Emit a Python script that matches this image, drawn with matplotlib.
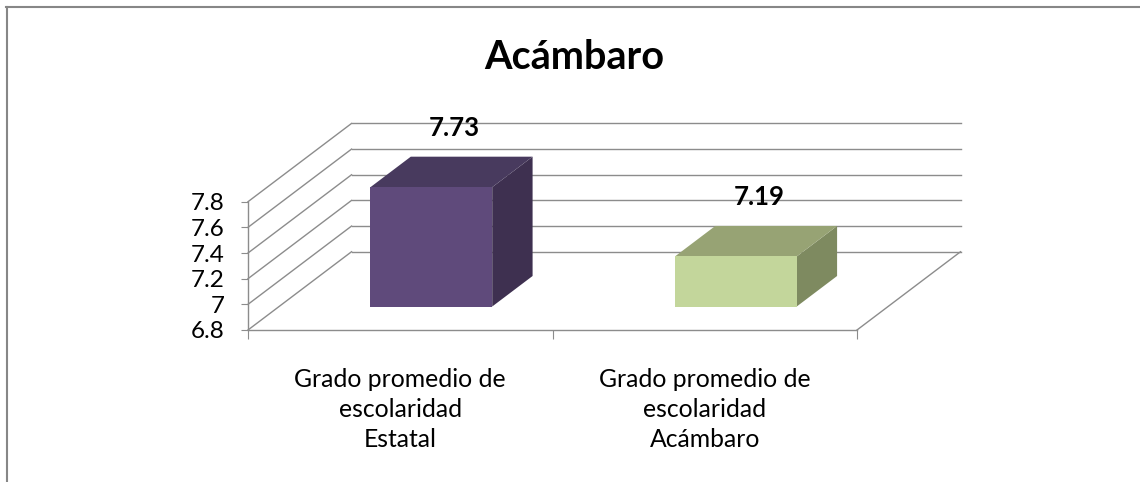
import matplotlib
matplotlib.use("Agg")
import matplotlib.pyplot as plt
from matplotlib.patches import Polygon
from matplotlib.lines import Line2D
from matplotlib.ticker import FormatStrFormatter

plt.rcParams["font.family"] = ["Lato", "DejaVu Sans"]

title = "Acámbaro"
categories = [
    "Grado promedio de\nescolaridad\nEstatal",
    "Grado promedio de\nescolaridad\nAcámbaro",
]
values = [7.73, 7.19]
y_ticks = [6.8, 7.0, 7.2, 7.4, 7.6, 7.8]

front_colors = ["#5f4a7b", "#c3d69b"]
top_colors = ["#483a5e", "#97a374"]
side_colors = ["#3e3050", "#7e8a60"]

GRID = "#8c8c8c"
DX, DY = 0.34, 0.61     # oblique depth offset (x units, value units)
BAR_W = 0.4
D0, D1 = 0.3, 0.69      # bar depth range as fraction of wall depth
base = y_ticks[0]


def proj(x, v, d):
    return (x + d * DX, v + d * DY)


fig = plt.figure(figsize=(11.4, 4.82), dpi=100)
ax = fig.add_axes([248 / 1140, 152 / 482, 609 / 1140, 128.3 / 482])
n = len(values)
ax.set_xlim(0, n)
ax.set_ylim(base, y_ticks[-1])

# back wall gridlines + left wall diagonals
for v in y_ticks:
    a, b = proj(0, v, 1), proj(n, v, 1)
    ax.plot([a[0], b[0]], [a[1], b[1]], color=GRID, lw=1.0, clip_on=False, zorder=1)
    c = proj(0, v, 0)
    ax.plot([c[0], a[0]], [c[1], a[1]], color=GRID, lw=1.0, clip_on=False, zorder=1)
# floor right edge
a, b = proj(n, base, 0), proj(n, base, 1)
ax.plot([a[0], b[0]], [a[1], b[1]], color=GRID, lw=1.0, clip_on=False, zorder=1)

# 3d-looking bars
for i, v in enumerate(values):
    xc = i + 0.5
    x0, x1 = xc - BAR_W / 2, xc + BAR_W / 2
    front = [proj(x0, base, D0), proj(x1, base, D0), proj(x1, v, D0), proj(x0, v, D0)]
    top = [proj(x0, v, D0), proj(x1, v, D0), proj(x1, v, D1), proj(x0, v, D1)]
    side = [proj(x1, base, D0), proj(x1, base, D1), proj(x1, v, D1), proj(x1, v, D0)]
    for pts, col in [(side, side_colors[i]), (top, top_colors[i]), (front, front_colors[i])]:
        ax.add_patch(Polygon(pts, closed=True, facecolor=col, edgecolor="none",
                             clip_on=False, zorder=3))
    ax.annotate(f"{v:.2f}", xy=proj(xc, v, 0.5), xytext=(2, 25.5),
                textcoords="offset points", ha="center", va="baseline",
                fontsize=18.5, fontweight="bold", annotation_clip=False, zorder=4)

for s in ["top", "right"]:
    ax.spines[s].set_visible(False)
for s in ["left", "bottom"]:
    ax.spines[s].set_color(GRID)
    ax.spines[s].set_linewidth(1.0)
ax.set_facecolor("none")

ax.set_yticks(y_ticks)
ax.yaxis.set_major_formatter(FormatStrFormatter("%g"))
ax.tick_params(axis="y", direction="out", length=5, color=GRID, labelsize=17.5, pad=12)
ax.set_xticks(range(n + 1))
ax.set_xticklabels([])
ax.tick_params(axis="x", direction="out", length=6.5, color=GRID)

# category names, three lines under each slot (baseline = last line)
for i, lab in enumerate(categories):
    ax.annotate(lab, xy=(i + 0.5, base), xytext=(0, -84.2), textcoords="offset points",
                ha="center", va="baseline", fontsize=17.8, linespacing=1.36,
                annotation_clip=False)

fig.text(574 / 1140, 1 - 69.3 / 482, title, ha="center", va="baseline",
         fontsize=28.5, fontweight="bold")

# chart border (right/bottom edges fall outside the picture)
fig.add_artist(Line2D([6 / 1140, 1], [1 - 7 / 482, 1 - 7 / 482],
                      transform=fig.transFigure, color="#878787", lw=1.5))
fig.add_artist(Line2D([7 / 1140, 7 / 1140], [0, 1 - 7 / 482],
                      transform=fig.transFigure, color="#878787", lw=1.5))

fig.savefig("out.png", dpi=100)
